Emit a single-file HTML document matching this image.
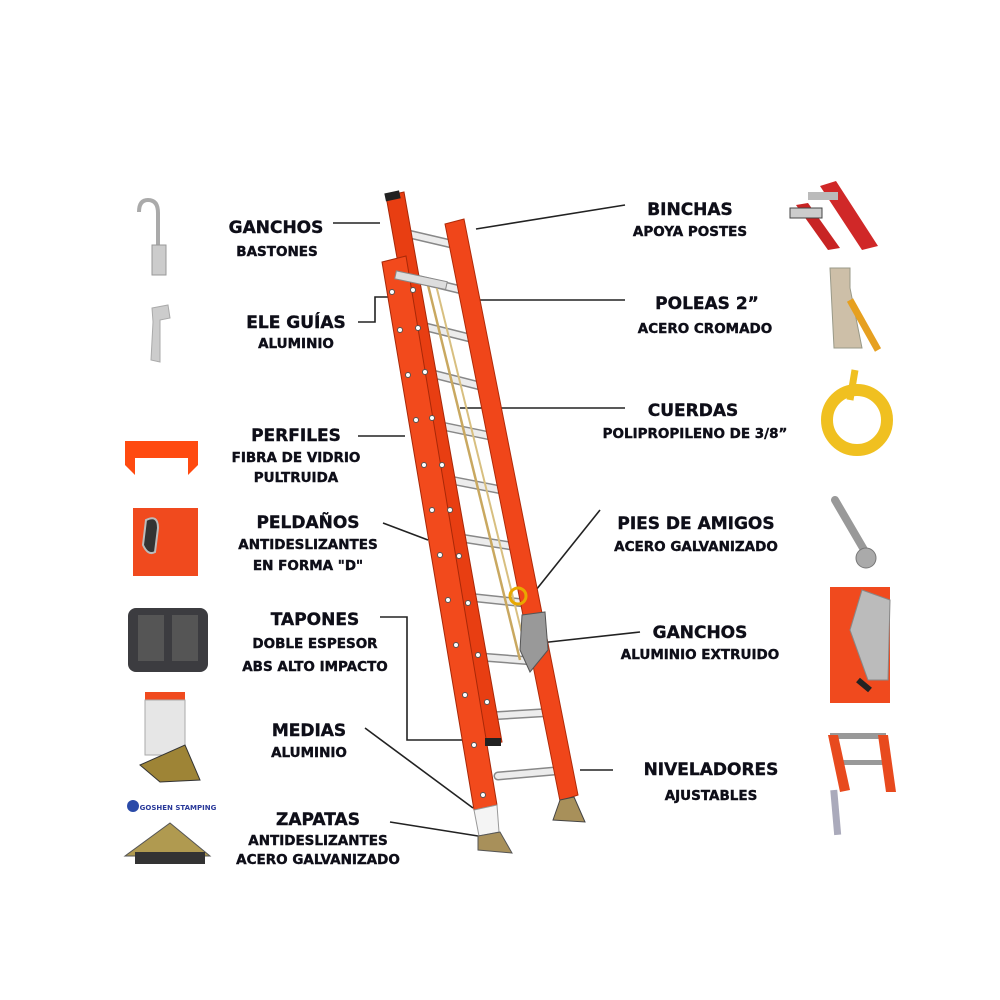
<!DOCTYPE html>
<html><head><meta charset="utf-8"><style>
html,body{margin:0;padding:0;background:#fff;width:1000px;height:1000px;overflow:hidden}
svg text{font-family:"DejaVu Sans","Liberation Sans",sans-serif;font-weight:bold;fill:#0e0e18;text-anchor:middle;stroke:#0e0e18;stroke-width:0.4}
.m{font-size:17px}.s{font-size:13.5px}
</style></head><body>
<svg width="1000" height="1000" viewBox="0 0 1000 1000" xmlns="http://www.w3.org/2000/svg">
<g stroke="#222" stroke-width="1.6" fill="none">
<path d="M333 223H380"/>
<path d="M358 322H375V297H392"/>
<path d="M358 436H405"/>
<path d="M383 523L428 540"/>
<path d="M380 617H407V740H495"/>
<path d="M365 728L473 808"/>
<path d="M390 822L478 836"/>
<path d="M476 229L625 205"/>
<path d="M460 300H625"/>
<path d="M460 408H625"/>
<path d="M528 600L600 510"/>
<path d="M540 643L640 632"/>
<path d="M580 770H613"/>
</g>
<g stroke="#888" stroke-width="9" stroke-linecap="round">
<path d="M400 232L460 246"/><path d="M412 278L470 292"/><path d="M418 325L478 340"/><path d="M425 372L488 388"/><path d="M432 424L500 438"/><path d="M440 478L512 492"/><path d="M448 536L524 548"/><path d="M458 596L534 604"/><path d="M468 656L546 662"/><path d="M490 716L556 712"/><path d="M498 776L566 770"/>
</g>
<g stroke="#ececec" stroke-width="6" stroke-linecap="round">
<path d="M400 232L460 246"/><path d="M412 278L470 292"/><path d="M418 325L478 340"/><path d="M425 372L488 388"/><path d="M432 424L500 438"/><path d="M440 478L512 492"/><path d="M448 536L524 548"/><path d="M458 596L534 604"/><path d="M468 656L546 662"/><path d="M490 716L556 712"/><path d="M498 776L566 770"/>
</g>
<path d="M428 285L520 660" stroke="#c9a860" stroke-width="2.5"/>
<path d="M436 285L526 650" stroke="#d8bf80" stroke-width="2"/>
<polygon points="445,224 464,219 578,795 560,801" fill="#f0461a" stroke="#b02a08" stroke-width="1"/>
<polygon points="386,196 404,192 502,742 484,746" fill="#e83e12" stroke="#a82808" stroke-width="1"/>
<rect x="385" y="192" width="15" height="8" fill="#222" transform="rotate(-12 392 196)"/>
<polygon points="382,262 406,256 497,805 474,810" fill="#f24a1c" stroke="#a82808" stroke-width="1"/>
<polygon points="474,810 497,805 499,832 479,836" fill="#f4f4f4" stroke="#999"/>
<rect x="485" y="738" width="16" height="8" fill="#222"/>
<g fill="#fff" stroke="#555" stroke-width="1">
<circle cx="392" cy="292" r="2.5"/><circle cx="400" cy="330" r="2.5"/><circle cx="408" cy="375" r="2.5"/><circle cx="416" cy="420" r="2.5"/><circle cx="424" cy="465" r="2.5"/><circle cx="432" cy="510" r="2.5"/><circle cx="440" cy="555" r="2.5"/><circle cx="448" cy="600" r="2.5"/><circle cx="456" cy="645" r="2.5"/><circle cx="465" cy="695" r="2.5"/><circle cx="474" cy="745" r="2.5"/><circle cx="483" cy="795" r="2.5"/>
<circle cx="413" cy="290" r="2.5"/><circle cx="418" cy="328" r="2.5"/><circle cx="425" cy="372" r="2.5"/><circle cx="432" cy="418" r="2.5"/><circle cx="442" cy="465" r="2.5"/><circle cx="450" cy="510" r="2.5"/><circle cx="459" cy="556" r="2.5"/><circle cx="468" cy="603" r="2.5"/><circle cx="478" cy="655" r="2.5"/><circle cx="487" cy="702" r="2.5"/>
</g>
<rect x="395" y="276" width="52" height="8" fill="#ddd" stroke="#888" transform="rotate(12 420 280)"/>
<circle cx="518" cy="596" r="8" fill="none" stroke="#e8a800" stroke-width="3"/>
<polygon points="522,615 545,612 548,650 530,672 520,650" fill="#999" stroke="#555"/>
<polygon points="478,836 500,832 512,853 478,850" fill="#a8905a" stroke="#555"/>
<polygon points="560,800 574,797 585,822 553,820" fill="#a8905a" stroke="#444"/>
<path d="M158 265V213Q158 200 148 200Q139 200 139 212" stroke="#aaa" stroke-width="4" fill="none"/>
<rect x="152" y="245" width="14" height="30" fill="#ccc" stroke="#999"/>
<path d="M152 308L168 305L170 318L160 320L160 362L151 360L153 322Z" fill="#ccc" stroke="#aaa"/>
<path d="M125 441H198V465L188 475V458H135V475L125 465Z" fill="#ff4a10"/>
<rect x="133" y="508" width="65" height="68" fill="#f04a1e"/>
<path d="M146 520Q158 514 158 528L155 552Q148 556 143 545Z" fill="#333" stroke="#bbb" stroke-width="2"/>
<rect x="128" y="608" width="80" height="64" rx="8" fill="#3c3c40"/>
<rect x="138" y="615" width="26" height="46" fill="#555"/><rect x="172" y="615" width="26" height="46" fill="#555"/>
<rect x="145" y="692" width="40" height="8" fill="#f04a1e"/>
<rect x="145" y="700" width="40" height="55" fill="#e6e6e6" stroke="#aaa"/>
<polygon points="140,765 185,745 200,780 160,782" fill="#9e8436" stroke="#333"/>
<circle cx="133" cy="806" r="6" fill="#2a4aa8"/>
<text x="178" y="810" style="font-size:7px;fill:#2a3a9a;stroke:none">GOSHEN STAMPING</text>
<polygon points="125,856 170,823 210,856" fill="#b09a50" stroke="#555"/>
<rect x="135" y="852" width="70" height="12" fill="#333"/>
<polygon points="820,186 836,181 878,246 862,250" fill="#d02828"/>
<polygon points="796,205 808,203 840,248 828,250" fill="#c82424"/>
<rect x="790" y="208" width="32" height="10" fill="#ccc" stroke="#444"/>
<rect x="808" y="192" width="30" height="8" fill="#bbb"/>
<path d="M830 268h20v20l12 60h-28z" fill="#cdbfa8" stroke="#998"/>
<path d="M850 300L878 350" stroke="#e6a020" stroke-width="7"/>
<circle cx="857" cy="420" r="30" fill="none" stroke="#f0c020" stroke-width="12"/>
<path d="M855 370L850 400" stroke="#f0c020" stroke-width="7"/>
<path d="M835 500L870 560" stroke="#999" stroke-width="8" stroke-linecap="round"/>
<circle cx="866" cy="558" r="10" fill="#aaa" stroke="#777"/>
<rect x="830" y="587" width="60" height="116" fill="#f04a1e"/>
<polygon points="862,590 890,600 888,680 868,680 850,630" fill="#bbb" stroke="#888"/>
<path d="M858 680L870 690" stroke="#222" stroke-width="6"/>
<rect x="830" y="733" width="56" height="6" fill="#999"/>
<rect x="838" y="760" width="46" height="5" fill="#999"/>
<polygon points="828,735 838,735 850,790 840,792" fill="#e84a1e"/>
<polygon points="878,735 888,735 896,792 886,792" fill="#e84a1e"/>
<rect x="832" y="790" width="7" height="45" fill="#aab" transform="rotate(-5 835 810)"/>
<text class="m" x="276" y="233">GANCHOS</text><text class="s" x="277" y="256">BASTONES</text>
<text class="m" x="296" y="328">ELE GUÍAS</text><text class="s" x="296" y="348">ALUMINIO</text>
<text class="m" x="296" y="441">PERFILES</text><text class="s" x="296" y="462">FIBRA DE VIDRIO</text><text class="s" x="296" y="482">PULTRUIDA</text>
<text class="m" x="308" y="528">PELDAÑOS</text><text class="s" x="308" y="549">ANTIDESLIZANTES</text><text class="s" x="308" y="570">EN FORMA "D"</text>
<text class="m" x="315" y="625">TAPONES</text><text class="s" x="315" y="648">DOBLE ESPESOR</text><text class="s" x="315" y="671">ABS ALTO IMPACTO</text>
<text class="m" x="309" y="736">MEDIAS</text><text class="s" x="309" y="757">ALUMINIO</text>
<text class="m" x="318" y="825">ZAPATAS</text><text class="s" x="318" y="845">ANTIDESLIZANTES</text><text class="s" x="318" y="864">ACERO GALVANIZADO</text>
<text class="m" x="690" y="215">BINCHAS</text><text class="s" x="690" y="236">APOYA POSTES</text>
<text class="m" x="707" y="309">POLEAS 2”</text><text class="s" x="705" y="333">ACERO CROMADO</text>
<text class="m" x="693" y="416">CUERDAS</text><text class="s" x="695" y="438">POLIPROPILENO DE 3/8”</text>
<text class="m" x="696" y="529">PIES DE AMIGOS</text><text class="s" x="696" y="551">ACERO GALVANIZADO</text>
<text class="m" x="700" y="638">GANCHOS</text><text class="s" x="700" y="659">ALUMINIO EXTRUIDO</text>
<text class="m" x="711" y="775">NIVELADORES</text><text class="s" x="711" y="800">AJUSTABLES</text>
</svg>
</body></html>
